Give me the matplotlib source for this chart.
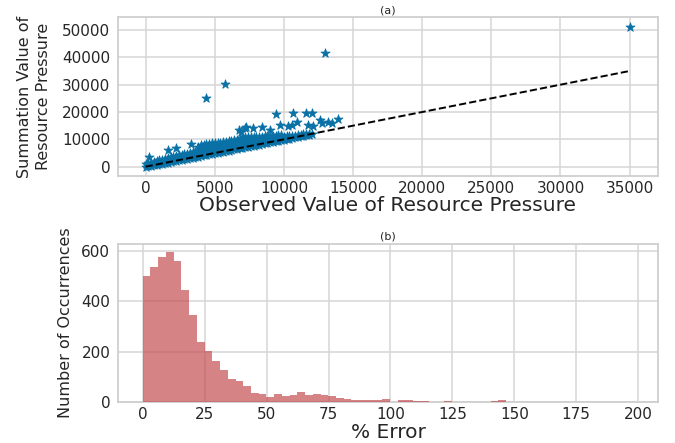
import numpy as np
import matplotlib
matplotlib.use("Agg")
import matplotlib.pyplot as plt

# ---------------- data: panel (a) scatter ----------------
# dense band (observed, summation), read column by column
band_obs = [0, 0, 200, 200,
            400, 400, 400, 600, 600, 600,
            800, 800, 800, 1000, 1000, 1000,
            1200, 1200, 1200, 1400, 1400, 1400,
            1600, 1600, 1600, 1800, 1800, 1800,
            2000, 2000, 2000, 2200, 2200, 2200,
            2400, 2400, 2400, 2600, 2600, 2600,
            2800, 2800, 2800, 3000, 3000, 3000,
            3200, 3200, 3200, 3400, 3400, 3400,
            3600, 3600, 3600, 3800, 3800, 3800, 3800,
            4000, 4000, 4000, 4200, 4200, 4200,
            4400, 4400, 4400, 4600, 4600, 4600,
            4800, 4800, 4800, 5000, 5000, 5000,
            5200, 5200, 5200, 5400, 5400, 5400,
            5600, 5600, 5600, 5800, 5800, 5800,
            6000, 6000, 6000, 6200, 6200, 6200,
            6400, 6400, 6400, 6600, 6600, 6600,
            6800, 6800, 6800, 7000, 7000, 7000,
            7200, 7200, 7200, 7400, 7400, 7400,
            7600, 7600, 7600, 7800, 7800, 7800,
            8000, 8000, 8000, 8200, 8200, 8200,
            8400, 8400, 8400, 8600, 8600, 8600,
            8800, 8800, 8800, 9000, 9000, 9000,
            9200, 9200, 9200, 9400, 9400, 9400,
            9600, 9600, 9600, 9800, 9800, 9800,
            10000, 10000, 10200, 10200,
            10400, 10400, 10600, 10600,
            10800, 10800, 11000, 11000,
            11200, 11200, 11400, 11400,
            11600, 11600, 11800, 11800,
            12000]
band_sum = [0, 1000, 150, 1250,
            300, 900, 1500, 500, 1150, 1800,
            700, 1400, 2100, 900, 1600, 2350,
            1100, 1850, 2600, 1300, 2050, 2850,
            1500, 2300, 3100, 1700, 2550, 3400,
            1900, 2800, 3700, 2100, 3000, 3900,
            2300, 3200, 4100, 2500, 3400, 4300,
            2700, 3600, 4500, 2900, 3800, 4700,
            3100, 4000, 4900, 3300, 4250, 5200,
            3500, 4500, 5500, 3700, 4700, 5700, 7200,
            3900, 5900, 8000, 4100, 6000, 8100,
            4300, 6200, 8200, 4500, 6400, 8300,
            4700, 6600, 8500, 4900, 6700, 8600,
            5100, 6900, 8700, 5300, 7000, 8800,
            5500, 7200, 9000, 5700, 7400, 9100,
            5900, 7600, 9300, 6100, 7800, 9500,
            6300, 8000, 9700, 6500, 8200, 9900,
            6700, 8400, 10200, 6900, 8600, 10400,
            7100, 8900, 10700, 7300, 9000, 10700,
            7500, 9200, 10800, 7700, 9300, 10800,
            7900, 9400, 10800, 8100, 9500, 10900,
            8300, 9700, 11000, 8500, 9800, 11100,
            8700, 10000, 11200, 8900, 10100, 11300,
            9100, 10300, 11400, 9300, 10400, 11400,
            9500, 10600, 11500, 9700, 10800, 11500,
            9900, 11000, 10100, 11100,
            10300, 11200, 10500, 11300,
            10700, 11400, 10900, 11500,
            11100, 11700, 11300, 11800,
            11500, 12000, 11700, 12100,
            11900]

# scattered points above the band
out_obs = [240, 1610, 2170, 3310, 6750, 7240, 6930, 7170, 7770, 8450, 8980,
           9460, 10620, 11580, 12000, 10950, 9700, 10300, 10550, 11750, 12110,
           12600, 12720, 13200, 13510, 13920,
           4340, 5740, 12980, 35050]
out_sum = [3440, 6110, 6730, 8300, 13430, 14630, 12800, 14050, 14050, 14630, 13430,
           19280, 19750, 19750, 19750, 16460, 15250, 14890, 15250, 15250, 14890,
           17080, 15880, 16460, 16100, 17340,
           25000, 30250, 41700, 51200]

# ---------------- data: panel (b) histogram ----------------
err_max = 199.7          # upper end of the binned % error range
err_counts = [500, 536, 576, 597, 562, 445, 345, 238, 202, 162,
              130, 94, 86, 64, 38, 31, 21, 31, 23, 27,
              39, 28, 31, 27, 23, 17, 13, 11, 11, 11,
              11, 15, 3, 11, 11, 7, 7, 3, 3, 7,
              0, 3, 3, 3, 0, 7, 11, 3, 0, 3,
              0, 0, 0, 3, 0, 3, 0, 3, 3, 3,
              3, 0, 0, 0]

a_xticks = [0, 5000, 10000, 15000, 20000, 25000, 30000, 35000]
a_yticks = [0, 10000, 20000, 30000, 40000, 50000]
b_xticks = [0, 25, 50, 75, 100, 125, 150, 175, 200]
b_yticks = [0, 200, 400, 600]

# ---------------- style ----------------
TXT = "#262626"
GRID = "#d6d6d6"
plt.rcParams["font.family"] = ["DejaVu Sans"]

fig = plt.figure(figsize=(6.75, 4.43), dpi=100)
ax1 = fig.add_axes([0.1748, 0.6034, 0.80, 0.3576])
ax2 = fig.add_axes([0.1748, 0.0919, 0.80, 0.3573])

for ax in (ax1, ax2):
    ax.set_facecolor("white")
    ax.grid(True, color=GRID, linewidth=1.1, zorder=0)
    ax.set_axisbelow(True)
    for sp in ax.spines.values():
        sp.set_color("#cfcfcf")
        sp.set_linewidth(1.3)
    ax.tick_params(axis="both", length=0, labelsize=11, labelcolor=TXT)
    ax.tick_params(axis="x", pad=3.5)
    ax.tick_params(axis="y", pad=5.5)

# panel (a)
obs_all = band_obs + out_obs
sum_all = band_sum + out_sum
ax1.scatter(obs_all, sum_all, marker="*", s=46, color="#0a71a6",
            edgecolors="#0a71a6", linewidths=0.6, zorder=3)
lo, hi = min(obs_all), max(obs_all)
ax1.plot([lo, hi], [lo, hi], color="black", linestyle="--", linewidth=1.4, zorder=4)
ax1.set_xlim(-2000, 37050)
ax1.set_ylim(-3300, 54650)
ax1.set_xticks(a_xticks)
ax1.set_yticks(a_yticks)
ax1.set_title("(a)", fontsize=8, color=TXT, pad=3)
ax1.set_xlabel("Observed Value of Resource Pressure", fontsize=14.5, color=TXT,
               va="center")
ax1.xaxis.set_label_coords(0.5, -0.19)
ax1.set_ylabel("Summation Value of\nResource Pressure", fontsize=11.5, color=TXT,
               va="center", ha="center", linespacing=1.3)
ax1.yaxis.set_label_coords(-0.156, 0.5)

# panel (b)
n_bins = len(err_counts)
edges = np.linspace(0, err_max, n_bins + 1)
centers = (edges[:-1] + edges[1:]) / 2
ax2.hist(centers, bins=edges, weights=err_counts, color="#C44E52", alpha=0.7,
         edgecolor="none", zorder=3)
ax2.set_xlim(-10, 208)
ax2.set_ylim(0, 628)
ax2.set_xticks(b_xticks)
ax2.set_yticks(b_yticks)
ax2.set_title("(b)", fontsize=8, color=TXT, pad=3)
ax2.set_xlabel("% Error", fontsize=14.5, color=TXT, va="center")
ax2.xaxis.set_label_coords(0.5, -0.19)
ax2.set_ylabel("Number of Occurrences", fontsize=11.5, color=TXT,
               va="center", ha="center")
ax2.yaxis.set_label_coords(-0.098, 0.5)

fig.savefig("out.png", dpi=100, facecolor="white")
